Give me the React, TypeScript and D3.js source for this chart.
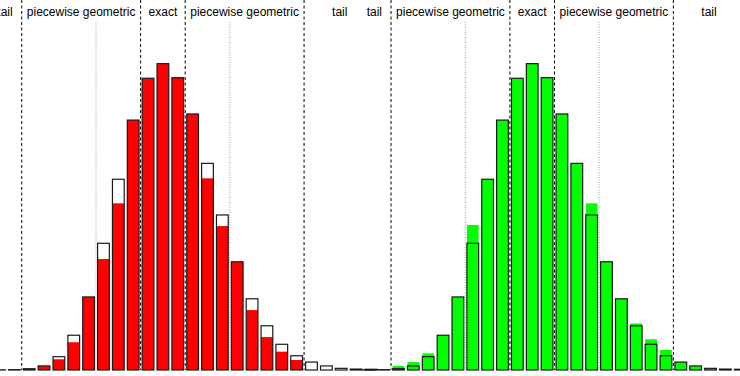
import { useEffect, useRef } from "react"
import * as d3 from "d3"

// bin index (k), exact distribution, lower (red) and upper (green) bounds
const bins = [-2, -1, 0, 1, 2, 3, 4, 5, 6, 7, 8, 9, 10, 11, 12, 13, 14, 15, 16, 17, 18, 19, 20, 21, 22, 23]
const exact = [
  0.0001, 0.0002, 0.0007, 0.0022, 0.0072, 0.0188, 0.0395, 0.0685, 0.1031, 0.1351, 0.1577, 0.1656, 0.158,
  0.1384, 0.1117, 0.0838, 0.0585, 0.0385, 0.0239, 0.0139, 0.0077, 0.0043, 0.0022, 0.0009, 0.0005, 0.0004,
]
const lower = [
  0, 0, 0.0005, 0.0022, 0.0058, 0.015, 0.0395, 0.06, 0.0901, 0.1351, 0.1577, 0.1656, 0.158, 0.1384, 0.1036,
  0.0778, 0.0585, 0.0324, 0.0178, 0.0099, 0.0054, 0, 0, 0, 0, 0,
]
const upper = [
  0, 0, 0.0022, 0.0043, 0.009, 0.0188, 0.0395, 0.0784, 0.1031, 0.1351, 0.1577, 0.1656, 0.158, 0.1384,
  0.1117, 0.0901, 0.0585, 0.0385, 0.0252, 0.0166, 0.0108, 0.0043, 0.0022, 0.0009, 0.0005, 0.0004,
]

// region boundaries and labels
const dashedLines = [-0.5, 7.5, 10.5, 18.5]
const dottedLines = [4.5, 13.5]
const xMin = -2.75
const xMax = 23.3
const regions = [
  { label: "tail", from: xMin, to: -0.5 },
  { label: "piecewise geometric", from: -0.5, to: 7.5 },
  { label: "exact", from: 7.5, to: 10.5 },
  { label: "piecewise geometric", from: 10.5, to: 18.5 },
  { label: "tail", from: 18.5, to: xMax },
]

const panels = [
  { fill: "#ff0000", values: lower, left: -11.7 },
  { fill: "#00ff00", values: upper, left: 357.6 },
]

export default function App() {
  const svgRef = useRef<SVGSVGElement>(null)
  const width = 740
  const height = 376

  useEffect(() => {
    if (!svgRef.current) return
    const svg = d3.select(svgRef.current)
    svg.selectAll("*").remove()

    const baseY = 370
    const y = d3.scaleLinear().domain([0, 0.2]).range([baseY, 0])
    const barW = 0.79

    panels.forEach((p) => {
      const x = d3.scaleLinear().domain([xMin, xMax]).range([p.left, p.left + 387.1])
      const g = svg.append("g")
      const pw = x(1) - x(0)

      // filled approximation bars
      g.selectAll(".fillbar")
        .data(bins)
        .enter()
        .append("rect")
        .attr("x", (d) => x(d) - (barW * pw) / 2)
        .attr("width", barW * pw)
        .attr("y", (d, i) => y(p.values[i]))
        .attr("height", (d, i) => baseY - y(p.values[i]))
        .attr("fill", p.fill)

      // exact distribution outlines
      g.selectAll(".outline")
        .data(bins)
        .enter()
        .append("rect")
        .attr("x", (d) => x(d) - (barW * pw) / 2)
        .attr("width", barW * pw)
        .attr("y", (d, i) => y(exact[i]))
        .attr("height", (d, i) => baseY - y(exact[i]))
        .attr("fill", "none")
        .attr("stroke", "#1a1a1a")
        .attr("stroke-width", 1.2)

      g.selectAll(".dashed")
        .data(dashedLines)
        .enter()
        .append("line")
        .attr("x1", (d) => x(d))
        .attr("x2", (d) => x(d))
        .attr("y1", 0)
        .attr("y2", baseY)
        .attr("stroke", "#000")
        .attr("stroke-width", 1)
        .attr("stroke-dasharray", "3,2.5")

      g.selectAll(".dotted")
        .data(dottedLines)
        .enter()
        .append("line")
        .attr("x1", (d) => x(d))
        .attr("x2", (d) => x(d))
        .attr("y1", 22)
        .attr("y2", baseY)
        .attr("stroke", "#888")
        .attr("stroke-width", 0.8)
        .attr("stroke-dasharray", "1,1.5")

      g.selectAll(".label")
        .data(regions)
        .enter()
        .append("text")
        .attr("x", (d) => x((d.from + d.to) / 2))
        .attr("y", 16)
        .attr("text-anchor", "middle")
        .attr("fill", "#000")
        .style("font-family", "'Liberation Sans', Arial, sans-serif")
        .style("font-size", "12px")
        .text((d) => d.label)
    })
  }, [])

  return (
    <svg
      ref={svgRef}
      width={width}
      height={height}
      style={{ position: "absolute", left: 0, top: 0, background: "#fff" }}
    />
  )
}
